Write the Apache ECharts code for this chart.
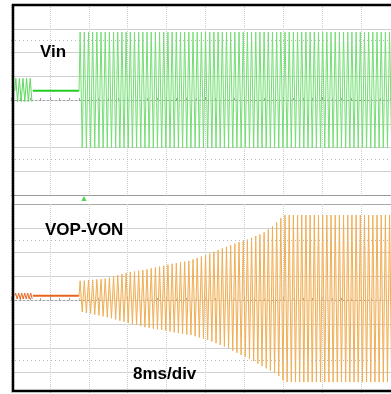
<!DOCTYPE html>
<html>
<head>
<meta charset="utf-8">
<script src="https://cdn.jsdelivr.net/npm/echarts@6/dist/echarts.min.js"></script>
<style>
html,body{margin:0;padding:0;background:#fff;}
#chart{width:391px;height:394px;}
</style>
</head>
<body>
<div id="chart"></div>
<script>
// ---- data (time in ms, amplitude in screen divisions) ----
const timeScale = { min: 0, max: 80, interval: 8 };
const divScale = { min: -4, max: 4, interval: 1 };
const dottedLevels = [-2.5, 2.5];

// Vin: short burst, flat line, then full carrier
const vinBurstStart = 0.8;
const vinBurstPeriod = 0.74;
const vinBurstHigh = [0.91, 0.91, 0.91, 0.91, 0.91];
const vinBurstLow = [-0.07, -0.07, -0.07, -0.07, -0.07];
const vinFlatLevel = 0.39;
const vinFlatSpan = [4.5, 14.0];
const carrierStart = 14.0;
const carrierPeriod = 0.86;
const vinHigh = [
  2.86,2.86,2.86,2.86,2.86,2.86,2.86,2.86,2.86,2.86,
  2.86,2.86,2.86,2.86,2.86,2.86,2.86,2.86,2.86,2.86,
  2.86,2.86,2.86,2.86,2.86,2.86,2.86,2.86,2.86,2.86,
  2.86,2.86,2.86,2.86,2.86,2.86,2.86,2.86,2.86,2.86,
  2.86,2.86,2.86,2.86,2.86,2.86,2.86,2.86,2.86,2.86,
  2.86,2.86,2.86,2.86,2.86,2.86,2.86,2.86,2.86,2.86,
  2.86,2.86,2.86,2.86,2.86,2.86,2.86,2.86,2.86,2.86,
  2.86,2.86,2.86,2.86,2.86,2.86
];
const vinLow = [
  -2.02,-2.02,-2.02,-2.02,-2.02,-2.02,-2.02,-2.02,-2.02,-2.02,
  -2.02,-2.02,-2.02,-2.02,-2.02,-2.02,-2.02,-2.02,-2.02,-2.02,
  -2.02,-2.02,-2.02,-2.02,-2.02,-2.02,-2.02,-2.02,-2.02,-2.02,
  -2.02,-2.02,-2.02,-2.02,-2.02,-2.02,-2.02,-2.02,-2.02,-2.02,
  -2.02,-2.02,-2.02,-2.02,-2.02,-2.02,-2.02,-2.02,-2.02,-2.02,
  -2.02,-2.02,-2.02,-2.02,-2.02,-2.02,-2.02,-2.02,-2.02,-2.02,
  -2.02,-2.02,-2.02,-2.02,-2.02,-2.02,-2.02,-2.02,-2.02,-2.02,
  -2.02,-2.02,-2.02,-2.02,-2.02,-2.02
];

// VOP-VON: short burst, flat line, then ramping carrier
const vopBurstStart = 0.8;
const vopBurstPeriod = 0.62;
const vopBurstHigh = [0.29, 0.29, 0.29, 0.29, 0.29, 0.29];
const vopBurstLow = [0.04, 0.04, 0.04, 0.04, 0.04, 0.04];
const vopFlatLevel = 0.18;
const vopFlatSpan = [4.5, 14.0];
const vopHigh = [
  0.80,0.81,0.83,0.84,0.86,0.87,0.89,0.93,0.98,1.03,
  1.08,1.13,1.16,1.19,1.22,1.25,1.28,1.32,1.35,1.39,
  1.43,1.47,1.51,1.54,1.57,1.60,1.63,1.69,1.75,1.81,
  1.87,1.94,2.01,2.08,2.15,2.22,2.28,2.35,2.41,2.46,
  2.52,2.59,2.67,2.73,2.82,2.94,3.07,3.23,3.41,3.54,
  3.54,3.54,3.54,3.54,3.54,3.54,3.54,3.54,3.54,3.54,
  3.54,3.54,3.54,3.54,3.54,3.54,3.54,3.54,3.54,3.54,
  3.54,3.54,3.54,3.54,3.54,3.54
];
const vopLow = [
  -0.50,-0.54,-0.57,-0.61,-0.64,-0.68,-0.72,-0.76,-0.81,-0.86,
  -0.91,-0.96,-1.00,-1.04,-1.08,-1.13,-1.16,-1.19,-1.22,-1.25,
  -1.28,-1.31,-1.35,-1.38,-1.41,-1.44,-1.46,-1.51,-1.56,-1.61,
  -1.66,-1.73,-1.80,-1.87,-1.94,-2.01,-2.11,-2.20,-2.29,-2.36,
  -2.45,-2.55,-2.65,-2.75,-2.85,-2.94,-3.03,-3.17,-3.34,-3.42,
  -3.42,-3.42,-3.42,-3.42,-3.42,-3.42,-3.42,-3.42,-3.42,-3.42,
  -3.42,-3.42,-3.42,-3.42,-3.42,-3.42,-3.42,-3.42,-3.42,-3.42,
  -3.42,-3.42,-3.42,-3.42,-3.42,-3.42
];

// trigger marker (time, level just below the upper screen)
const triggerPoint = [[15.0, -4.15]];

// labels
const labels = { vin: 'Vin', vop: 'VOP-VON', scale: '8ms/div' };

// ---- build traces from the peak lists ----
function zigzag(t0, period, highs, lows, startLevel) {
  const pts = [[t0, startLevel]];
  for (let k = 0; k < highs.length; k++) {
    pts.push([t0 + k * period + period * 0.25, highs[k]]);
    pts.push([t0 + k * period + period * 0.75, lows[k]]);
  }
  return pts;
}
const vinBurst = zigzag(vinBurstStart, vinBurstPeriod, vinBurstHigh, vinBurstLow, vinFlatLevel);
const vinMain = zigzag(carrierStart, carrierPeriod, vinHigh, vinLow, vinFlatLevel);
const vopBurst = zigzag(vopBurstStart, vopBurstPeriod, vopBurstHigh, vopBurstLow, vopFlatLevel);
const vopMain = zigzag(carrierStart, carrierPeriod, vopHigh, vopLow, vopFlatLevel);

const FONT = '"Liberation Sans", Arial, sans-serif';
const lightGrid = '#cfcfcf';
const hLineColorsTop = ['#9a9a9a', lightGrid, lightGrid, lightGrid, 'rgba(0,0,0,0)', lightGrid, lightGrid, lightGrid, 'rgba(0,0,0,0)'];
const hLineColorsBot = ['rgba(0,0,0,0)', lightGrid, lightGrid, lightGrid, 'rgba(0,0,0,0)', lightGrid, lightGrid, lightGrid, '#a8a8a8'];

function xAxisFor(gridIndex) {
  return {
    type: 'value', gridIndex: gridIndex,
    min: timeScale.min, max: timeScale.max, interval: timeScale.interval,
    axisLine: { show: true, onZero: true, lineStyle: { color: '#a0a0a0', type: [2, 2], width: 1 } },
    axisTick: { show: true, inside: true, length: 3, lineStyle: { color: '#a0a0a0' } },
    minorTick: { show: true, splitNumber: 4, length: 2, lineStyle: { color: '#a0a0a0' } },
    axisLabel: { show: false },
    splitLine: { show: true, lineStyle: { color: '#cdcdcd', type: [1, 1], width: 1 } }
  };
}
function yAxisFor(gridIndex, colors) {
  return {
    type: 'value', gridIndex: gridIndex,
    min: divScale.min, max: divScale.max, interval: divScale.interval,
    axisLine: { show: false }, axisTick: { show: false }, axisLabel: { show: false },
    splitLine: { show: true, lineStyle: { color: colors, width: 1 } }
  };
}
function dottedMarks() {
  return {
    silent: true, symbol: 'none', label: { show: false },
    lineStyle: { color: '#b8b8b8', type: [1, 3], width: 1 },
    data: dottedLevels.map(v => ({ yAxis: v }))
  };
}
function trace(name, data, xi, color, width, extra) {
  return Object.assign({
    name: name, type: 'line', xAxisIndex: xi, yAxisIndex: xi, data: data,
    showSymbol: false, symbol: 'none', silent: true, animation: false,
    sampling: null, clip: true,
    lineStyle: { color: color, width: width }, z: 3
  }, extra || {});
}

const option = {
  animation: false,
  backgroundColor: '#ffffff',
  title: [
    { text: labels.vin, left: 35, top: 39, textStyle: { fontFamily: FONT, fontSize: 17, fontWeight: 'bold', color: '#000' } },
    { text: labels.vop, left: 40, top: 217, textStyle: { fontFamily: FONT, fontSize: 17, fontWeight: 'bold', color: '#000' } },
    { text: labels.scale, left: 128, top: 361, textStyle: { fontFamily: FONT, fontSize: 17, fontWeight: 'bold', color: '#000' } }
  ],
  grid: [
    { left: 11, width: 389, top: 5, height: 190, containLabel: false, outerBoundsMode: 'none' },
    { left: 11, width: 389, top: 204, height: 192, containLabel: false, outerBoundsMode: 'none' },
    { left: 13, width: 400, top: 5, bottom: 3, show: true, borderColor: '#000', borderWidth: 2.5, backgroundColor: 'rgba(0,0,0,0)', z: 10, outerBoundsMode: 'none' }
  ],
  xAxis: [xAxisFor(0), xAxisFor(1), { type: 'value', gridIndex: 2, show: false, min: 0, max: 1 }],
  yAxis: [yAxisFor(0, hLineColorsTop), yAxisFor(1, hLineColorsBot), { type: 'value', gridIndex: 2, show: false, min: 0, max: 1 }],
  series: [
    trace('grid-top', [], 0, '#000', 0, { markLine: dottedMarks() }),
    trace('grid-bot', [], 1, '#000', 0, { markLine: dottedMarks() }),
    trace('Vin burst', vinBurst, 0, '#5fd85f', 1),
    trace('Vin flat', [[vinFlatSpan[0], vinFlatLevel], [vinFlatSpan[1], vinFlatLevel]], 0, '#22cc22', 2),
    trace('Vin', vinMain, 0, '#74de74', 1),
    trace('VOP-VON burst', vopBurst, 1, '#e8692a', 1),
    trace('VOP-VON flat', [[vopFlatSpan[0], vopFlatLevel], [vopFlatSpan[1], vopFlatLevel]], 1, '#e8641e', 2),
    trace('VOP-VON', vopMain, 1, '#f0ae55', 1, { areaStyle: { color: '#fbe4c4', opacity: 0.6, origin: 'auto' } }),
    {
      name: 'trigger', type: 'scatter', xAxisIndex: 0, yAxisIndex: 0, data: triggerPoint,
      symbol: 'triangle', symbolSize: 5, itemStyle: { color: '#22cc22' }, clip: false, silent: true, z: 5
    }
  ]
};

const chart = echarts.init(document.getElementById('chart'), null, { renderer: 'canvas' });
chart.setOption(option);
</script>
</body>
</html>
